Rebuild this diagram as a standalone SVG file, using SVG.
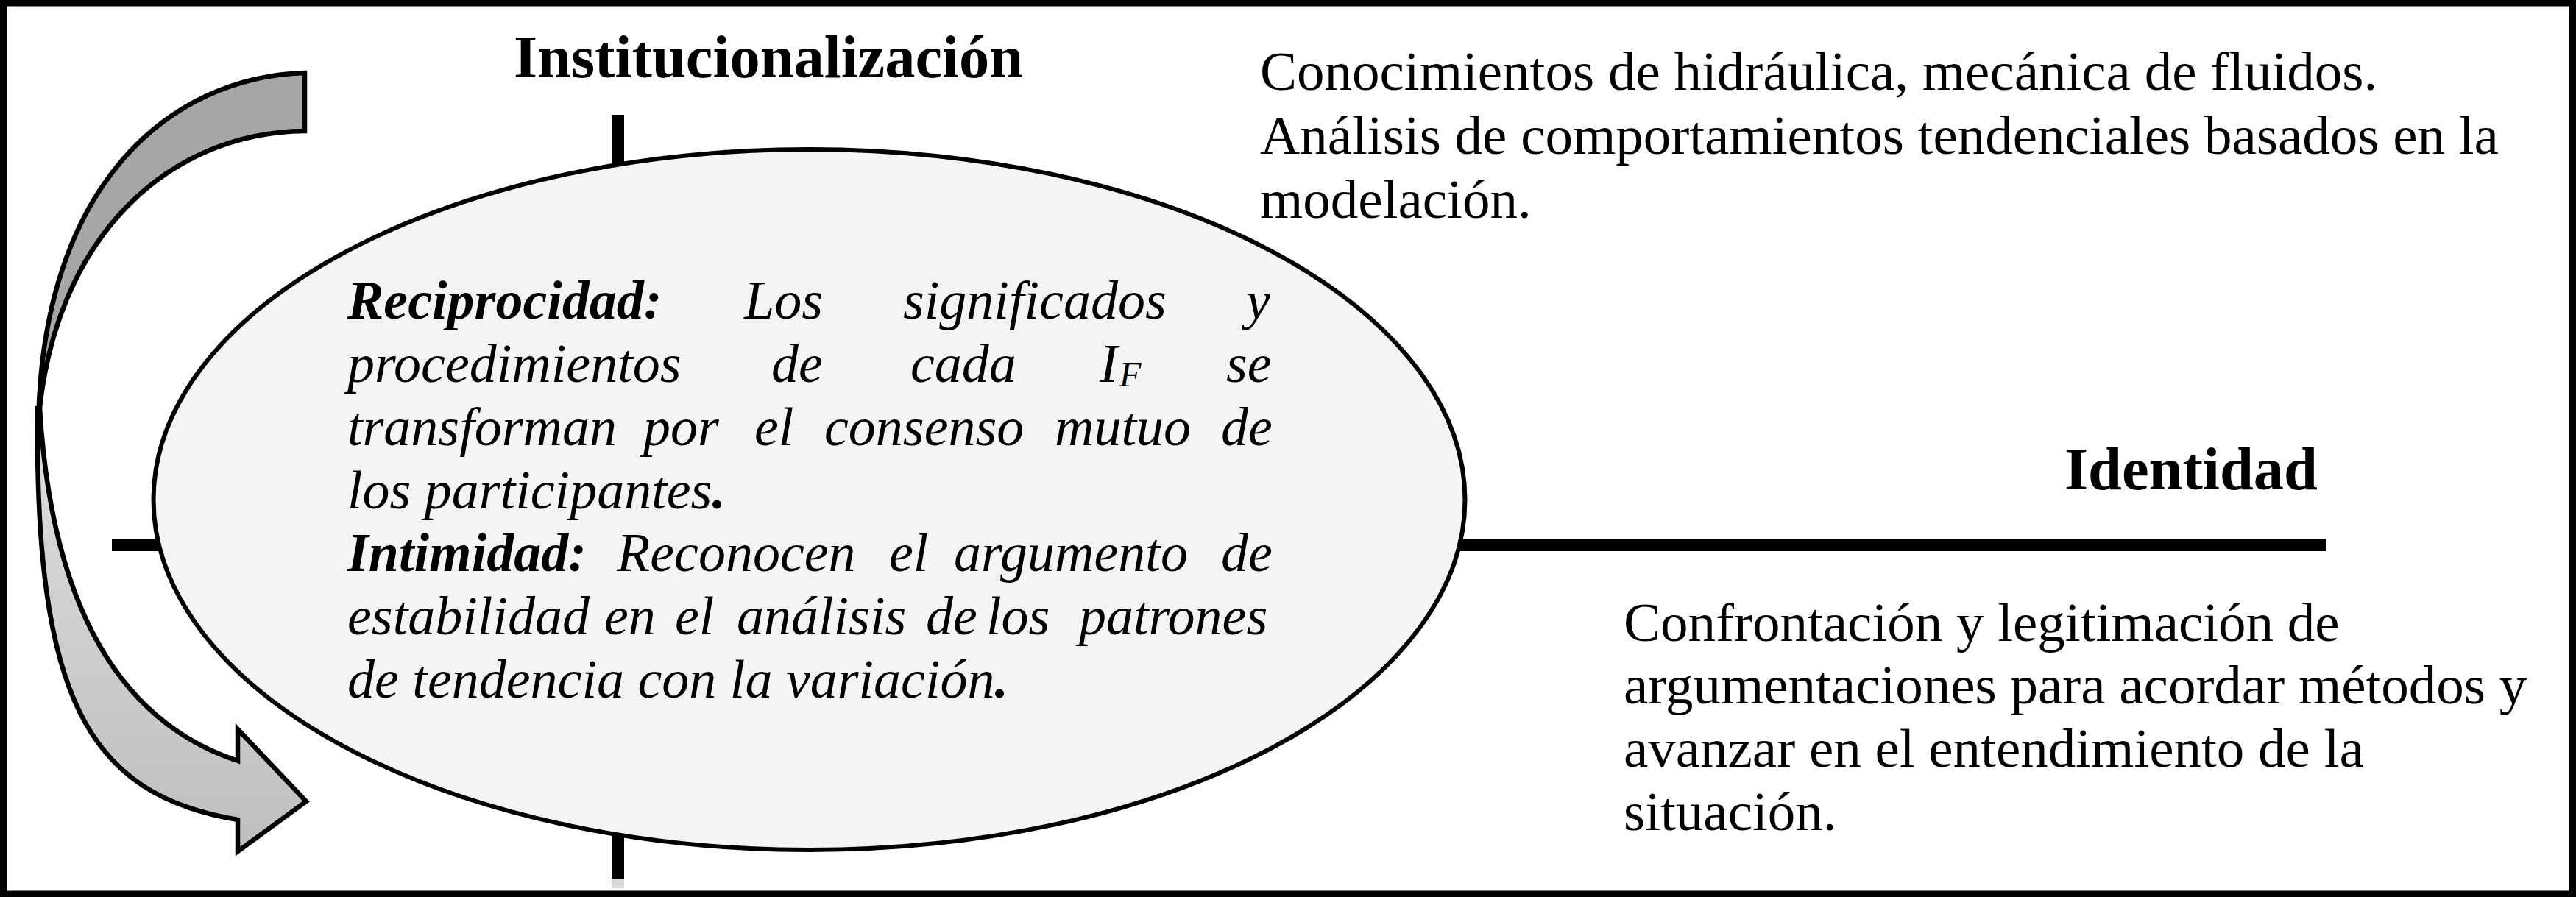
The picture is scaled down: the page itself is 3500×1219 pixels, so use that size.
<svg xmlns="http://www.w3.org/2000/svg" width="3500" height="1219" viewBox="0 0 3500 1219">
<defs>
<linearGradient id="gLow" x1="0" y1="600" x2="0" y2="1157" gradientUnits="userSpaceOnUse">
<stop offset="0" stop-color="#dcdcdc"/>
<stop offset="1" stop-color="#bfbfbf"/>
</linearGradient>
<style>
.t{font-family:"Liberation Serif","Times New Roman",serif;fill:#000}
.h{font-size:82.5px;font-weight:bold}
.b{font-size:75px}
.i{font-size:74px;font-style:italic}
.bi{font-weight:bold}
.ax{fill:#000}
.arw{stroke:#000;stroke-width:6.5;stroke-linejoin:miter}
</style>
</defs>
<rect x="0" y="0" width="3500" height="1219" fill="#fff"/>
<rect x="4.5" y="4" width="3491" height="1211" fill="none" stroke="#000" stroke-width="9"/>

<g id="connectors">
<rect class="ax" x="831" y="156" width="17" height="1038"/>
<rect x="831" y="1194" width="17" height="13" fill="#d9d9d9"/>
<rect class="ax" x="152" y="732" width="3008" height="17"/>
</g>

<g id="arrow">
<path class="arw" fill="#a6a6a6" d="M414,99 L414,178 C230,180 72,320 52,575 C58,250 230,105 414,99 Z"/>
<path class="arw" fill="url(#gLow)" d="M51,555 C47,950 120,1080 323,1114 L323,1157 L416,1089 L323,991 L323,1034 C160,980 70,820 54,555 Z"/>
</g>

<g id="ellipse">
<ellipse cx="1099.5" cy="679" rx="891" ry="476" fill="#f4f4f4" stroke="#000" stroke-width="6"/>
<text class="t i">
<tspan x="472" y="433" class="bi">Reciprocidad:</tspan><tspan x="1011" y="433">Los</tspan><tspan x="1227" y="433">significados</tspan><tspan x="1693" y="433">y</tspan>
<tspan x="472" y="519">procedimientos</tspan><tspan x="1048" y="519">de</tspan><tspan x="1237" y="519">cada</tspan><tspan x="1494" y="519">I</tspan><tspan x="1521" y="525" font-size="48">F</tspan><tspan x="1666" y="519">se</tspan>
<tspan x="472" y="605">transforman</tspan><tspan x="874" y="605">por</tspan><tspan x="1025" y="605">el</tspan><tspan x="1120" y="605">consenso</tspan><tspan x="1433" y="605">mutuo</tspan><tspan x="1659" y="605">de</tspan>
<tspan x="472" y="691">los participantes</tspan><tspan class="bi">.</tspan>
<tspan x="472" y="776" class="bi">Intimidad:</tspan><tspan x="838" y="776">Reconocen</tspan><tspan x="1208" y="776">el</tspan><tspan x="1296" y="776">argumento</tspan><tspan x="1659" y="776">de</tspan>
<tspan x="472" y="862">estabilidad</tspan><tspan x="821" y="862">en</tspan><tspan x="917" y="862">el</tspan><tspan x="1001" y="862">análisis</tspan><tspan x="1258" y="862">de</tspan><tspan x="1340" y="862">los</tspan><tspan x="1466" y="862">patrones</tspan>
<tspan x="472" y="948">de tendencia con la variación</tspan><tspan class="bi">.</tspan>
</text>
</g>

<g id="institucionalizacion">
<text class="t h" x="698" y="105">Institucionalización</text>
</g>

<g id="identidad">
<text class="t h" x="2805" y="665">Identidad</text>
</g>

<g id="texto-superior">
<text class="t b">
<tspan x="1712" y="122">Conocimientos de hidráulica, mecánica de fluidos.</tspan>
<tspan x="1712" y="209">Análisis de comportamientos tendenciales basados en la</tspan>
<tspan x="1712" y="296">modelación.</tspan>
</text>
</g>

<g id="texto-inferior">
<text class="t b">
<tspan x="2206" y="871">Confrontación y legitimación de</tspan>
<tspan x="2206" y="956">argumentaciones para acordar métodos y</tspan>
<tspan x="2206" y="1042">avanzar en el entendimiento de la</tspan>
<tspan x="2206" y="1128">situación.</tspan>
</text>
</g>
</svg>
